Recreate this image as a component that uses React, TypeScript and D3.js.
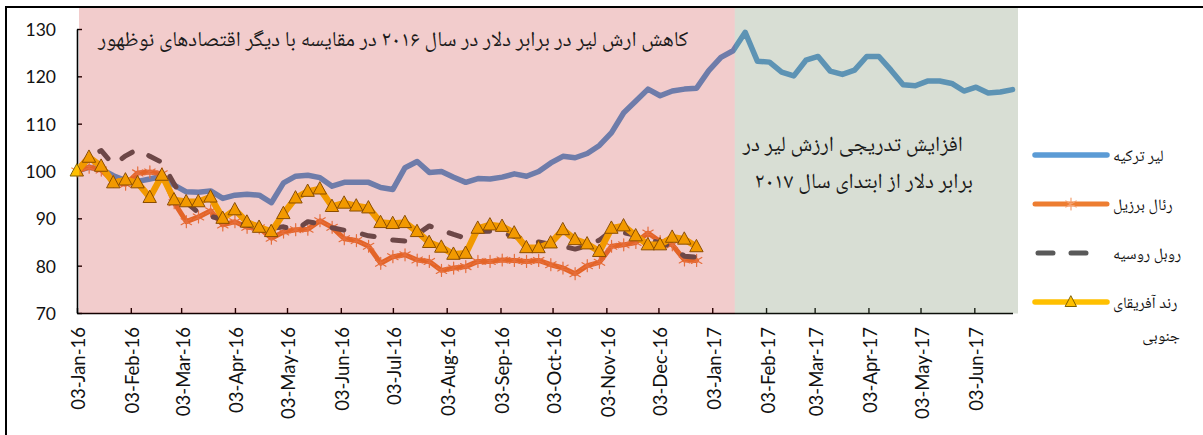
import { useEffect, useRef } from "react"
import * as d3 from "d3"

// weekly observations, first one on 03-Jan-16
const startDate = "2016-01-03"

const turkishLira = [
  100, 100.8, 100.4, 99, 98, 97.8, 98.3, 98.9, 97, 95.6, 95.5, 95.8, 94.2, 94.9, 95.1, 94.9, 93.3, 97.5,
  98.9, 99.1, 98.6, 96.8, 97.6, 97.6, 97.6, 96.5, 96.1, 100.7, 102, 99.7, 99.9, 98.7, 97.6, 98.4, 98.3,
  98.7, 99.4, 98.9, 99.9, 101.7, 103.1, 102.8, 103.7, 105.4, 108.1, 112.3, 114.8, 117.3, 115.9, 116.9,
  117.3, 117.5, 121.2, 124, 125.4, 129.3, 123.2, 123, 120.9, 120.1, 123.4, 124.2, 121.1, 120.4, 121.3,
  124.2, 124.2, 121.3, 118.2, 118, 119, 119, 118.5, 116.9, 117.7, 116.5, 116.7, 117.2,
]

const brazilianReal = [
  100, 100.8, 100.2, 97.8, 97.2, 99.6, 99.8, 99.4, 93.3, 89.3, 90.3, 91.6, 88.6, 89.3, 88.1, 88, 85.8,
  87.1, 87.6, 87.7, 89.5, 88.1, 85.7, 85.3, 84.1, 80.5, 81.9, 82.3, 81.2, 80.9, 79, 79.5, 79.8, 80.9,
  80.9, 81.2, 81.1, 80.9, 81.1, 80.2, 79.5, 78.3, 80, 80.7, 84.1, 84.4, 84.9, 86.9, 85.1, 84.4, 81.2, 81.1,
]

const russianRouble = [
  100, 103.2, 104.3, 101.3, 103.2, 104.6, 103.1, 101.8, 97.2, 93.4, 91.2, 90.4, 89.8, 89.3, 88.6, 88.2,
  87.9, 88.2, 87.5, 89.3, 88.8, 88, 87.5, 87, 86.3, 86, 85.4, 85.2, 86.6, 88.4, 87.5, 86.6, 85.8, 87.2,
  87.3, 86.9, 86.2, 85.5, 85, 84.5, 84.1, 83.5, 84.2, 85.4, 87.4, 87, 86.4, 85.5, 84.8, 84, 82, 81.8,
]

const southAfricanRand = [
  100, 102.9, 101, 97.5, 98.1, 97.5, 94.4, 99.1, 93.9, 93.5, 93.5, 94.5, 90, 91.8, 89.2, 88.1, 87.2, 91,
  94.3, 95.7, 96.2, 92.5, 93.2, 92.6, 92.2, 89.1, 88.9, 89.1, 87.2, 84.9, 83.9, 82.4, 82.6, 87.9, 88.6,
  88.3, 86.9, 83.8, 83.8, 84.8, 87.6, 85.5, 84.6, 83, 87.9, 88.4, 86.3, 84.4, 84.4, 86, 85.6, 84,
]

const yTicks = [70, 80, 90, 100, 110, 120, 130]

const xTickDates = [
  "2016-01-03", "2016-02-03", "2016-03-03", "2016-04-03", "2016-05-03", "2016-06-03",
  "2016-07-03", "2016-08-03", "2016-09-03", "2016-10-03", "2016-11-03", "2016-12-03",
  "2017-01-03", "2017-02-03", "2017-03-03", "2017-04-03", "2017-05-03", "2017-06-03",
]

// the pink box ends here, the green one starts
const splitDate = "2017-01-16"

const titleLeft = "کاهش ارش لیر در برابر دلار در سال ۲۰۱۶ در مقایسه با دیگر اقتصادهای نوظهور"
const titleRight = ["افزایش تدریجی ارزش لیر در", "برابر دلار از ابتدای سال ۲۰۱۷"]
const legendLabels = [["لیر ترکیه"], ["رئال برزیل"], ["روبل روسیه"], ["رند آفریقای", "جنوبی"]]

const width = 1203
const height = 435
const faFont = "'Noto Naskh Arabic', 'Noto Sans Arabic', 'DejaVu Sans', sans-serif"
const numFont = "Lato, 'Noto Sans', sans-serif"

export default function App() {
  const svgRef = useRef<SVGSVGElement>(null)

  useEffect(() => {
    if (!svgRef.current) return
    const svg = d3.select(svgRef.current)
    svg.selectAll("*").remove()

    const parse = d3.utcParse("%Y-%m-%d")
    const start = parse(startDate)!
    const weekDate = (i: number) => d3.utcDay.offset(start, i * 7)
    const lastDate = weekDate(turkishLira.length - 1)

    const left = 77
    const bottom = 313
    const x = d3.scaleUtc().domain([start, lastDate]).range([left, 1012.5])
    const y = d3.scaleLinear().domain([70, 130]).range([bottom, 29])

    svg.append("rect").attr("width", width).attr("height", height).attr("fill", "#fff")

    // axes
    const xAxis = d3
      .axisBottom(x)
      .tickValues(xTickDates.map((d) => parse(d)!))
      .tickSizeInner(-5)
      .tickSizeOuter(0)
      .tickFormat((d) => d3.utcFormat("%d-%b-%y")(d as Date))

    const gx = svg
      .append("g")
      .attr("transform", `translate(0,${bottom})`)
      .call(xAxis)
      .attr("color", "#000")
    gx.select(".domain").attr("stroke-width", 1.6)
    gx.selectAll(".tick line").attr("stroke-width", 1.4)
    gx.selectAll("text")
      .attr("x", 0)
      .attr("y", 0)
      .attr("dy", "0.35em")
      .attr("transform", "translate(1.5,14) rotate(-90)")
      .attr("text-anchor", "end")
      .attr("fill", "#111")
      .attr("font-family", numFont)
      .attr("font-size", 18.5)

    const yAxis = d3.axisLeft(y).tickValues(yTicks).tickSizeInner(-5).tickSizeOuter(0).tickPadding(21)
    const gy = svg.append("g").attr("transform", `translate(${left},0)`).call(yAxis).attr("color", "#000")
    gy.select(".domain").attr("stroke-width", 1.6)
    gy.selectAll(".tick line").attr("stroke-width", 1.4)
    gy.selectAll("text")
      .attr("dy", "0.38em")
      .attr("fill", "#111")
      .attr("font-family", numFont)
      .attr("font-size", 17.5)

    const line = d3
      .line<number>()
      .x((_, i) => x(weekDate(i)))
      .y((d) => y(d))

    const plot = svg.append("g").attr("fill", "none").attr("stroke-linejoin", "round").attr("stroke-linecap", "round")

    plot.append("path").attr("d", line(turkishLira)).attr("stroke", "#5B9BD5").attr("stroke-width", 5.5)

    plot.append("path").attr("d", line(brazilianReal)).attr("stroke", "#ED7D31").attr("stroke-width", 5)
    const star = "M0,-6V6M-5.2,-3L5.2,3M-5.2,3L5.2,-3"
    plot
      .selectAll("path.star")
      .data(brazilianReal)
      .enter()
      .append("path")
      .attr("class", "star")
      .attr("d", star)
      .attr("transform", (d, i) => `translate(${x(weekDate(i))},${y(d)})`)
      .attr("stroke", "#F08A4B")
      .attr("stroke-width", 1.2)

    plot
      .append("path")
      .attr("d", line(russianRouble))
      .attr("stroke", "#595959")
      .attr("stroke-width", 5)
      .attr("stroke-dasharray", "12 19")

    plot.append("path").attr("d", line(southAfricanRand)).attr("stroke", "#FFC000").attr("stroke-width", 6.5)
    const tri = "M0,-7L6.5,5L-6.5,5Z"
    plot
      .selectAll("path.tri")
      .data(southAfricanRand)
      .enter()
      .append("path")
      .attr("class", "tri")
      .attr("d", tri)
      .attr("transform", (d, i) => `translate(${x(weekDate(i))},${y(d)})`)
      .attr("fill", "#FFC000")
      .attr("stroke", "#7F6000")
      .attr("stroke-width", 1)

    // translucent highlight boxes drawn over the plot
    const split = x(parse(splitDate)!)
    svg
      .append("rect")
      .attr("x", 79)
      .attr("y", 8)
      .attr("width", split - 79)
      .attr("height", bottom + 0.5 - 8)
      .attr("fill", "rgb(192,0,0)")
      .attr("fill-opacity", 0.2)
    svg
      .append("rect")
      .attr("x", split)
      .attr("y", 8)
      .attr("width", 1018 - split)
      .attr("height", bottom + 0.5 - 8)
      .attr("fill", "rgb(100,125,85)")
      .attr("fill-opacity", 0.25)

    // annotations
    svg
      .append("text")
      .attr("x", 688)
      .attr("y", 46)
      .attr("direction", "rtl")
      .attr("text-anchor", "start")
      .attr("font-family", faFont)
      .attr("font-size", 21.3)
      .attr("fill", "#1a1a1a")
      .text(titleLeft)

    svg
      .selectAll("text.note")
      .data(titleRight)
      .enter()
      .append("text")
      .attr("class", "note")
      .attr("x", (_, i) => (i === 0 ? 963 : 973))
      .attr("y", (_, i) => 151 + i * 37)
      .attr("direction", "rtl")
      .attr("text-anchor", "start")
      .attr("font-family", faFont)
      .attr("font-size", 21.5)
      .attr("fill", "#1a1a1a")
      .text((d) => d)

    // legend
    const legendY = [155, 204, 253, 302]
    const lg = svg.append("g").attr("fill", "none").attr("stroke-linecap", "round")
    lg.append("line").attr("x1", 1035).attr("x2", 1107).attr("y1", legendY[0]).attr("y2", legendY[0])
      .attr("stroke", "#5B9BD5").attr("stroke-width", 5.5)
    lg.append("line").attr("x1", 1035).attr("x2", 1107).attr("y1", legendY[1]).attr("y2", legendY[1])
      .attr("stroke", "#ED7D31").attr("stroke-width", 5)
    lg.append("path").attr("d", star).attr("transform", `translate(1071,${legendY[1]})`)
      .attr("stroke", "#F4A070").attr("stroke-width", 1.2)
    lg.append("line").attr("x1", 1038).attr("x2", 1086).attr("y1", legendY[2]).attr("y2", legendY[2])
      .attr("stroke", "#595959").attr("stroke-width", 5).attr("stroke-dasharray", "15 18")
    lg.append("line").attr("x1", 1035).attr("x2", 1107).attr("y1", legendY[3]).attr("y2", legendY[3])
      .attr("stroke", "#FFC000").attr("stroke-width", 5.5)
    lg.append("path").attr("d", "M0,-6L5.5,4.5L-5.5,4.5Z").attr("transform", `translate(1071,${legendY[3]})`)
      .attr("fill", "#FFC000").attr("stroke", "#7F6000").attr("stroke-width", 1)

    legendLabels.forEach((lines, k) => {
      lines.forEach((t, j) => {
        svg
          .append("text")
          .attr("x", j === 0 ? 1113 : 1180)
          .attr("y", legendY[k] + 6 + j * 33)
          .attr("direction", "rtl")
          .attr("text-anchor", j === 0 ? "end" : "start")
          .attr("font-family", faFont)
          .attr("font-size", 16)
          .attr("fill", "#111")
          .text(t)
      })
    })

    // chart frame
    svg
      .append("path")
      .attr("d", `M6,${height}V7H${width}`)
      .attr("fill", "none")
      .attr("stroke", "#000")
      .attr("stroke-width", 2)
  }, [])

  return (
    <svg
      ref={svgRef}
      width={width}
      height={height}
      style={{ position: "absolute", left: 0, top: 0, display: "block" }}
    />
  )
}
